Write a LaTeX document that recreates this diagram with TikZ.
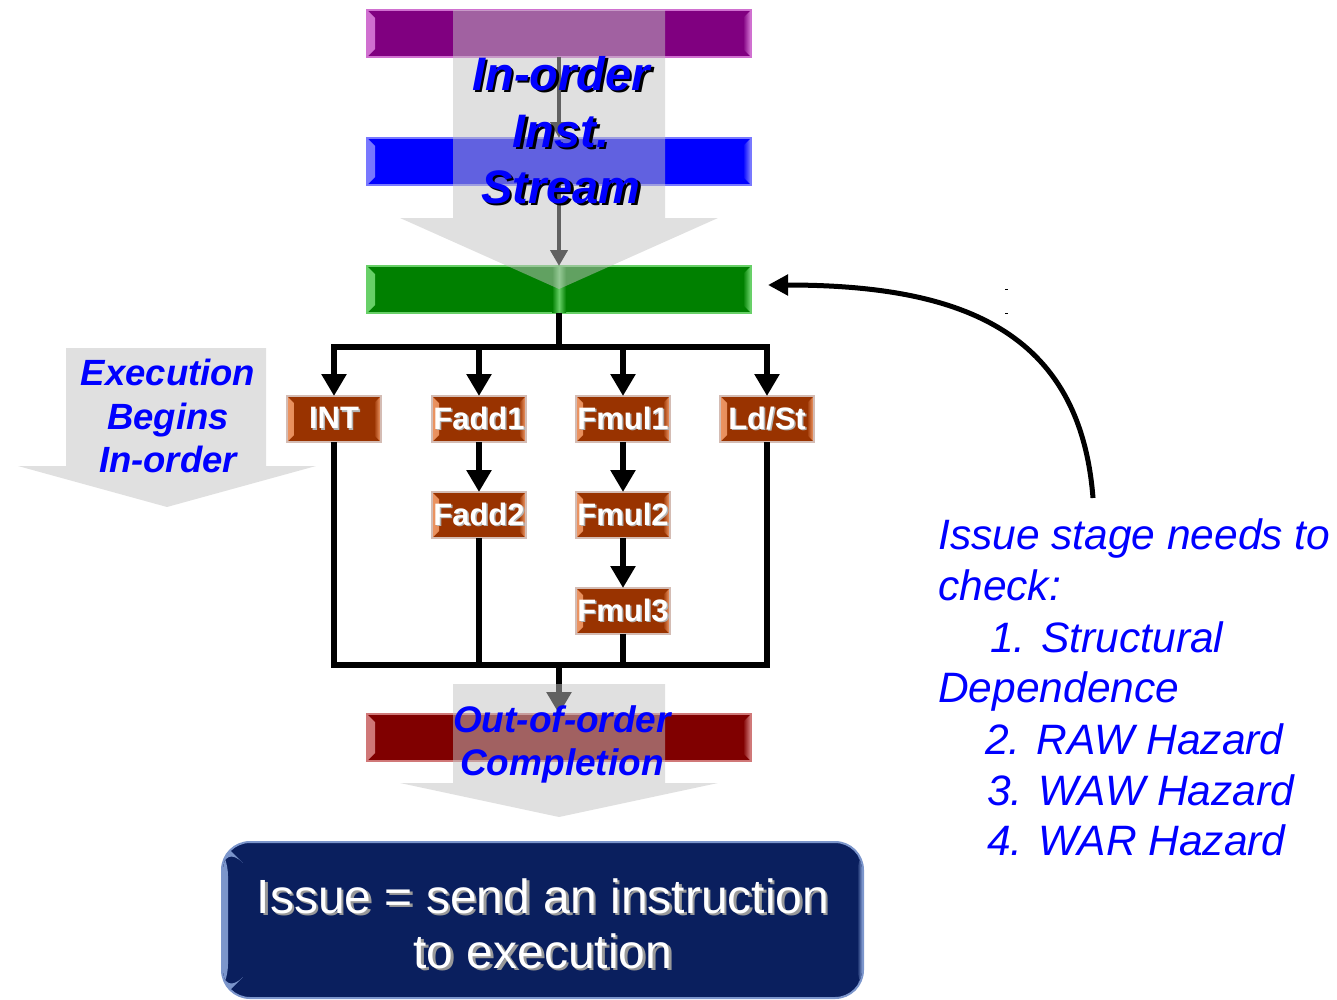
\documentclass[tikz,border=0pt]{standalone}
\usepackage{fontspec}
\setmainfont{Liberation Sans}
\usetikzlibrary{arrows.meta}

\definecolor{plum}{HTML}{800080}
\definecolor{plumlt}{HTML}{D070D0}
\definecolor{royal}{HTML}{0000FF}
\definecolor{royallt}{HTML}{7878FF}
\definecolor{leaf}{HTML}{008000}
\definecolor{leaflt}{HTML}{68D068}
\definecolor{maroonbar}{HTML}{800000}
\definecolor{maroonlt}{HTML}{D07878}
\definecolor{rust}{HTML}{993300}
\definecolor{rustlt}{HTML}{EC9462}
\definecolor{rustedge}{HTML}{D4BCB4}
\definecolor{navy}{HTML}{0A1F5E}
\definecolor{navylt}{HTML}{7C96CC}
\definecolor{labelblue}{HTML}{0000FF}

% text with a drop shadow: shadow colour, offset, text
\newcommand\shtext[3]{\leavevmode\rlap{\hspace*{#2}\raisebox{-#2}{\textcolor{#1}{#3}}}#3}

\tikzset{
  bevelled/.style n args={3}{path picture={
    \shade[left color=#1, right color=#2]
      ([shift={(1pt,-1pt)}]path picture bounding box.north west) --
      ([shift={(#3,-#3)}]path picture bounding box.north west) --
      ([shift={(#3,#3)}]path picture bounding box.south west) --
      ([shift={(1pt,1pt)}]path picture bounding box.south west) -- cycle;
    \shade[left color=#2, right color=#1]
      ([shift={(-1pt,-1pt)}]path picture bounding box.north east) --
      ([shift={(-#3,-#3)}]path picture bounding box.north east) --
      ([shift={(-#3,#3)}]path picture bounding box.south east) --
      ([shift={(-1pt,1pt)}]path picture bounding box.south east) -- cycle;
  }},
  bar/.style={minimum width=384pt, minimum height=47pt, inner sep=0pt, outer sep=0pt, line width=1.5pt},
  unit/.style={fill=rust, draw=rustedge, line width=1.2pt, minimum width=94pt, minimum height=46pt,
    inner sep=0pt, outer sep=0pt, text=white, font=\fontsize{31}{31}\selectfont\bfseries,
    bevelled={rustlt}{rust}{7pt}},
  streamfill/.style={fill=black!24, fill opacity=0.5},
  wire/.style={line width=6pt, draw=black},
  flow/.style={wire, -{Triangle[length=22pt,width=24pt]}},
  thinflow/.style={line width=4pt, draw=black, -{Triangle[length=16pt,width=17pt]}},
  streamtxt/.style={anchor=base, inner sep=0pt, text=labelblue, font=\fontsize{47}{47}\selectfont\bfseries\itshape},
  sidetxt/.style={anchor=base, inner sep=0pt, text=labelblue, font=\fontsize{36.5}{36.5}\selectfont\bfseries\itshape},
  donetxt/.style={anchor=base, inner sep=0pt, text=labelblue, font=\fontsize{37}{37}\selectfont\bfseries\itshape},
  boxtxt/.style={anchor=base, inner sep=0pt, text=white, font=\fontsize{48}{48}\selectfont},
  notetxt/.style={anchor=base west, inner sep=0pt, text=labelblue, font=\fontsize{42.5}{42.5}\selectfont\itshape},
}

\begin{document}
\begin{tikzpicture}[x=1pt, y=-1pt]
\useasboundingbox (0,0) rectangle (1337,999);

% pipeline registers
\node[bar, fill=plum, draw=plumlt, bevelled={plumlt}{plum}{8pt}] (instA) at (559,33.5) {};
\node[bar, fill=royal, draw=royallt, bevelled={royallt}{royal}{8pt}] (instB) at (559,161.5) {};
\node[bar, fill=leaf, draw=leaflt, bevelled={leaflt}{leaf}{8pt}] (issue) at (559,289.5) {};
\shade[left color=leaf, right color=leaf, middle color=leaflt] (552,267) rectangle (566,312);
\node[bar, fill=maroonbar, draw=maroonlt, bevelled={maroonlt}{maroonbar}{8pt}] (done) at (559,737.5) {};

% flow between the registers
\draw[thinflow] (instA.south) -- (instB.north);
\draw[thinflow] (instB.south) -- (issue.north);

\coordinate (split) at (559,347);
\coordinate (merge) at (559,665);
\draw[flow] (merge) -- (done.north);

% broad shaded arrows
\fill[streamfill] (453,10) -- (665,10) -- (665,218) -- (718,218) -- (559,289) -- (400,218) -- (453,218) -- cycle;
\fill[streamfill] (453,684) -- (665,684) -- (665,783) -- (718,783) -- (559,817) -- (400,783) -- (453,783) -- cycle;
\fill[streamfill] (66,348) -- (266,348) -- (266,466) -- (316,466) -- (167,507) -- (18,466) -- (66,466) -- cycle;

% functional units
\node[unit] (int)   at (334,419) {\shtext{black!30}{1.5pt}{INT}};
\node[unit] (fadd1) at (479,419) {\shtext{black!30}{1.5pt}{Fadd1}};
\node[unit] (fmul1) at (623,419) {\shtext{black!30}{1.5pt}{Fmul1}};
\node[unit] (ldst)  at (767,419) {\shtext{black!30}{1.5pt}{Ld/St}};
\node[unit] (fadd2) at (479,515) {\shtext{black!30}{1.5pt}{Fadd2}};
\node[unit] (fmul2) at (623,515) {\shtext{black!30}{1.5pt}{Fmul2}};
\node[unit] (fmul3) at (623,611) {\shtext{black!30}{1.5pt}{Fmul3}};

% issue fan-out
\draw[wire] (issue.south) -- (split);
\draw[wire, line cap=rect] (split -| int) -- (split -| ldst);
\draw[flow] (split -| int) -- (int.north);
\draw[flow] (split -| fadd1) -- (fadd1.north);
\draw[flow] (split -| fmul1) -- (fmul1.north);
\draw[flow] (split -| ldst) -- (ldst.north);

% pipelined units
\draw[flow] (fadd1.south) -- (fadd2.north);
\draw[flow] (fmul1.south) -- (fmul2.north);
\draw[flow] (fmul2.south) -- (fmul3.north);

% completion fan-in
\draw[wire, line join=miter] (int.south) -- (merge -| int) -- (merge -| ldst) -- (ldst.south);
\draw[wire] (fadd2.south) -- (merge -| fadd2);
\draw[wire] (fmul3.south) -- (merge -| fmul3);

% labels on the shaded arrows
\node[streamtxt] (s1) at (561,90)  {\shtext{black}{2.5pt}{In-order}};
\node[streamtxt] (s2) at (561,147) {\shtext{black}{2.5pt}{Inst.}};
\node[streamtxt] (s3) at (561,203) {\shtext{black}{2.5pt}{Stream}};

\node[sidetxt] (e1) at (168,385) {Execution};
\node[sidetxt] (e2) at (168,429) {Begins};
\node[sidetxt] (e3) at (168,472) {In-order};

\node[donetxt] (c1) at (562,732) {Out-of-order};
\node[donetxt] (c2) at (562,775) {Completion};

% definition box
\node[fill=navy, draw=navylt, line width=2pt, rounded corners=28pt, minimum width=641pt,
      minimum height=156pt, inner sep=0pt, bevelled={navylt}{navy}{6pt}] (issuebox) at (542.5,920) {};
\node[boxtxt] (b1) at (543,913) {\shtext{black!40}{2.5pt}{Issue = send an instruction}};
\node[boxtxt] (b2) at (543,968) {\shtext{black!40}{2.5pt}{to execution}};

% checklist
\node[notetxt] (n1) at (938,549) {Issue stage needs to};
\node[notetxt] (n2) at (938,600) {check:};
\node[notetxt] (n3) at (990,652) {1. Structural};
\node[notetxt] (n4) at (938,702) {Dependence};
\node[notetxt] (n5) at (985,754) {2. RAW Hazard};
\node[notetxt] (n6) at (987,805) {3. WAW Hazard};
\node[notetxt] (n7) at (987,855) {4. WAR Hazard};

\coordinate (noteTop) at (1093,498);
\coordinate (issueIn) at (768,285);
\draw[line width=5pt, -{Triangle[length=20pt,width=20pt]}]
  (noteTop) .. controls (1080,330) and (960,285) .. (issueIn);

\draw[line width=1pt] (1005,289) -- (1008,289);
\draw[line width=1pt] (1005,313) -- (1008,313);
\end{tikzpicture}
\end{document}
